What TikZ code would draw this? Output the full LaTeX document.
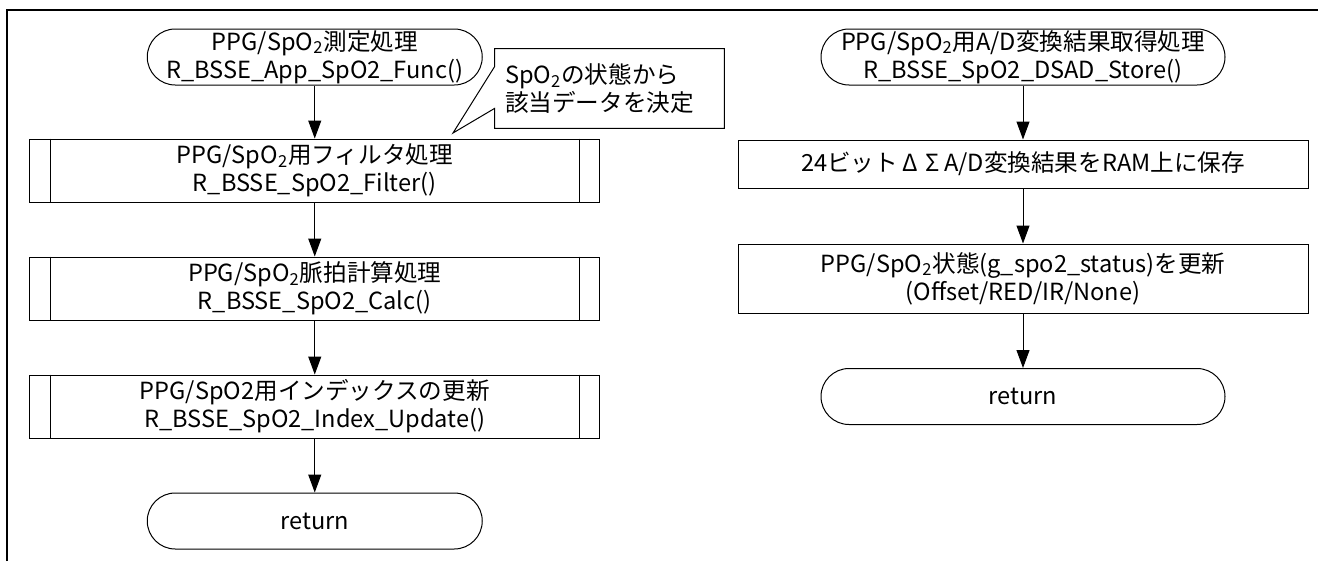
\documentclass[tikz,border=0pt]{standalone}
\usepackage{fontspec}
\setmainfont{Noto Sans CJK JP}
\usetikzlibrary{arrows.meta}

\begin{document}
\begin{tikzpicture}[x=0.5pt,y=-0.5pt,
        every node/.style={font=\fontsize{11.8pt}{14pt}\selectfont,align=center,inner sep=0pt},
        term/.style={draw,line width=0.5pt,minimum height=28pt,rounded corners=14pt},
        proc/.style={draw,line width=0.5pt,minimum width=285pt},
        arr/.style={line width=0.5pt,-{Triangle[length=9pt,width=6.5pt]}},
        frame/.style={line width=1pt}]
    \useasboundingbox (0,0) rectangle (1318,562);
    %% Frame
    \draw[frame] (7,561) -- (7,10) -- (1318,10);
    %% Left flow
    \node[term,minimum width=167.5pt] (startL) at (314.75,57)
        {PPG/SpO\textsubscript{2}測定処理\\R\_BSSE\_App\_SpO2\_Func()};
    \node[proc,minimum height=31.5pt] (filter) at (314.75,170.5)
        {PPG/SpO\textsubscript{2}用フィルタ処理\\R\_BSSE\_SpO2\_Filter()};
    \node[proc,minimum height=31.5pt] (calc) at (314.75,288.5)
        {PPG/SpO\textsubscript{2}脈拍計算処理\\R\_BSSE\_SpO2\_Calc()};
    \node[proc,minimum height=31.5pt] (index) at (314.75,406.5)
        {PPG/SpO2用インデックスの更新\\R\_BSSE\_SpO2\_Index\_Update()};
    \node[term,minimum width=167.5pt] (retL) at (314.75,521) {return};
    \foreach \n in {filter,calc,index}
        \draw[line width=0.5pt] ([xshift=10.5pt]\n.north west) -- ([xshift=10.5pt]\n.south west)
            ([xshift=-10.5pt]\n.north east) -- ([xshift=-10.5pt]\n.south east);
    \draw[arr] (startL) -- (filter);
    \draw[arr] (filter) -- (calc);
    \draw[arr] (calc) -- (index);
    \draw[arr] (index) -- (retL);
    %% Note
    \node[minimum width=114.5pt,minimum height=39.5pt,text width=104.5pt,
        inner sep=5pt,align=left] (note) at (609.5,88.5)
        {SpO\textsubscript{2}の状態から\\該当データを決定};
    \coordinate (tip) at (453,133);
    \draw[line width=0.5pt] (note.north west) -- (note.north east) -- (note.south east)
        -- (note.south west) -- ([yshift=10pt]note.south west) -- (tip)
        -- ([yshift=-9pt]note.north west) -- cycle;
    %% Right flow
    \node[term,minimum width=202pt] (startR) at (1023,57)
        {PPG/SpO\textsubscript{2}用A/D変換結果取得処理\\R\_BSSE\_SpO2\_DSAD\_Store()};
    \node[proc,minimum height=24pt] (store) at (1023,164)
        {24ビット\hspace{.2em}Δ\hspace{.3em}Σ\hspace{.2em}A/D変換結果をRAM上に保存};
    \node[proc,minimum height=34.5pt] (status) at (1023,278.5)
        {PPG/SpO\textsubscript{2}状態(g\_spo2\_status)を更新\\(Offset/RED/IR/None)};
    \node[term,minimum width=202pt] (retR) at (1023,396.5) {return};
    \draw[arr] (startR) -- (store);
    \draw[arr] (store) -- (status);
    \draw[arr] (status) -- (retR);
\end{tikzpicture}
\end{document}
